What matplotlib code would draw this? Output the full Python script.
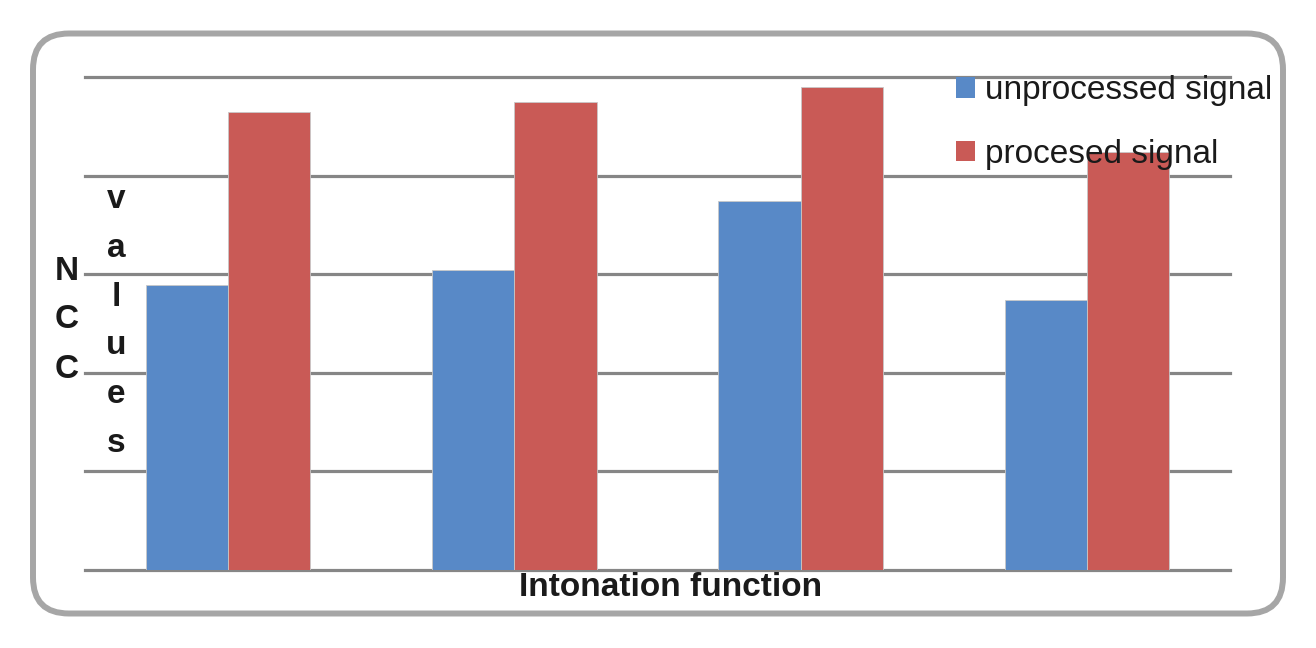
import numpy as np
import matplotlib.pyplot as plt
from matplotlib.patches import FancyBboxPatch, Patch

plt.rcParams['font.family'] = ['Liberation Sans', 'DejaVu Sans']

# data (NCC values, 0..1 scale)
categories = ['1', '2', '3', '4']
unprocessed = [0.578, 0.608, 0.749, 0.548]
processed = [0.930, 0.950, 0.980, 0.848]
series_names = ['unprocessed signal', 'procesed signal']
colors = ['#5889C7', '#C95A56']

W, H = 1316, 648
fig = plt.figure(figsize=(W / 100, H / 100), dpi=100)

# axes placed to match the reference in pixel coords
left, right, top, bottom = 85, 1230, 77, 570
ax = fig.add_axes([left / W, 1 - bottom / H, (right - left) / W, (bottom - top) / H])

x = np.arange(len(categories))
bw = 0.287
ax.bar(x - bw / 2, unprocessed, bw, color=colors[0], edgecolor='#c8c8c8', linewidth=0.6, zorder=3)
ax.bar(x + bw / 2, processed, bw, color=colors[1], edgecolor='#c8c8c8', linewidth=0.6, zorder=3)

ax.set_xlim(-0.5, len(categories) - 0.5)
ax.set_ylim(0, 1.0)
ax.set_yticks(np.arange(0, 1.01, 0.2))
ax.set_xticks([])
ax.tick_params(left=False, labelleft=False)
ax.yaxis.grid(True, color='#868686', linewidth=2.3, zorder=0)
ax.set_axisbelow(True)
for gl in ax.get_ygridlines():
    gl.set_clip_on(False)
for sp in ax.spines.values():
    sp.set_visible(False)

# stacked y label
for i, ch in enumerate('NCC'):
    fig.text(67 / W, 1 - (271 + i * 49) / H, ch, ha='center', va='center',
             fontsize=24, fontweight='bold', color='#1a1a1a')
for i, ch in enumerate('values'):
    fig.text(116 / W, 1 - (200 + i * 48.6) / H, ch, ha='center', va='center',
             fontsize=24, fontweight='bold', color='#1a1a1a')

fig.text(671 / W, 1 - 587 / H, 'Intonation function', ha='center', va='center',
         fontsize=24, fontweight='bold', color='#1a1a1a')

# legend
handles = [Patch(facecolor=c, edgecolor='none', label=n) for c, n in zip(colors, series_names)]
leg = fig.legend(handles=handles, loc='upper left', bbox_to_anchor=(956 / W, 1 - 75 / H),
                 frameon=False, fontsize=24, handlelength=0.58, handleheight=0.58,
                 handletextpad=0.28, labelspacing=0.98, borderpad=0, borderaxespad=0)
for t in leg.get_texts():
    t.set_color('#1a1a1a')

# rounded border around the whole chart
box = FancyBboxPatch((0.33, 0.345), 12.50, 5.80,
                     boxstyle='round,pad=0,rounding_size=0.36',
                     transform=fig.dpi_scale_trans, facecolor='none',
                     edgecolor='#a6a6a6', linewidth=4.3)
fig.patches.append(box)

fig.savefig('out.png', dpi=100)
